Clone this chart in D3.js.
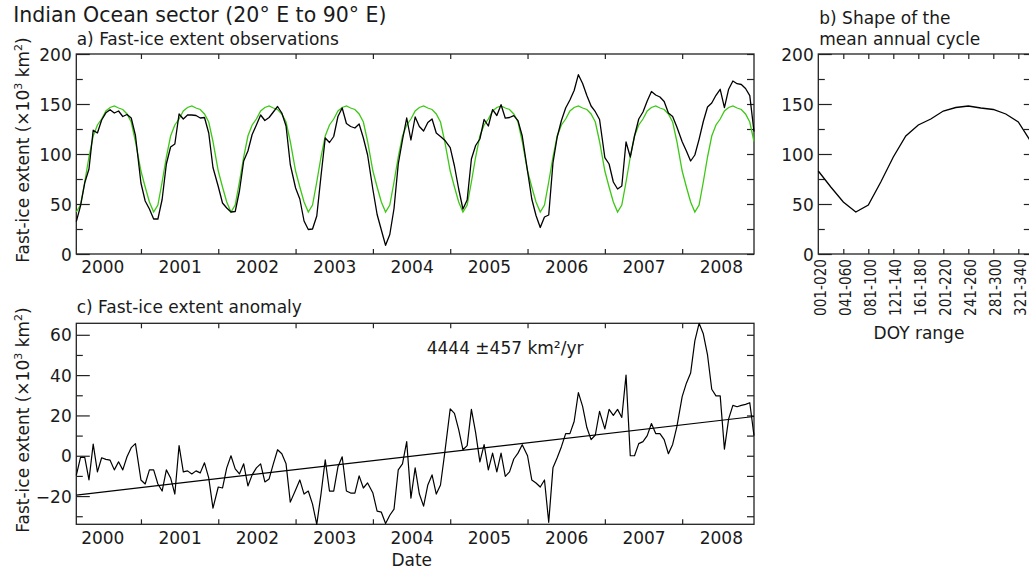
<!DOCTYPE html>
<html>
<head>
<meta charset="utf-8">
<script src="https://cdn.jsdelivr.net/npm/d3@7"></script>
<style>
    body { margin: 0; background: #fff; }
    svg text { font-family: "DejaVu Sans", sans-serif; fill: #1a1a1a; }
</style>
</head>
<body>
<div id="chart"></div>
<script>

// ---- data ----

const years = [2000, 2001, 2002, 2003, 2004, 2005, 2006, 2007, 2008];
const firstPeriod = 3;   // record starts with DOY 061-080 in 2000

const periodLabels = ["001-020", "021-040", "041-060", "061-080", "081-100", "101-120",
    "121-140", "141-160", "161-180", "181-200", "201-220", "221-240",
    "241-260", "261-280", "281-300", "301-320", "321-340", "341-360"];

// mean annual cycle (x10^3 km^2), one value per 20-day period
const climatology = [83, 67, 52, 42, 49, 72, 97, 118, 129, 135, 143, 146.5,
    148, 146, 144.5, 140, 132, 112.5];

// observed fast-ice extent per 20-day period, one row per year
const observed = [
    [32.3, 48.2, 71.2, 85, 123.8, 121, 134, 141.2, 144.3, 141, 143, 137.5, 139.5, 136, 118.5],
    [71, 53, 45, 35, 35, 54.5, 90, 107, 110, 140, 135, 139, 139, 138.5, 136, 136.5, 121, 86.5],
    [67.5, 51, 46, 42, 42.5, 63, 93, 103, 119.5, 129, 139, 133.5, 136.5, 142, 147.5, 141, 128, 89.5],
    [66, 55, 33, 24.5, 25, 38, 78, 116, 111.5, 117.5, 137.5, 146, 130.5, 127.5, 126, 130, 116, 99],
    [64.5, 39.5, 24, 8.7, 19.5, 45.5, 90, 114, 136, 114, 137, 127.5, 123, 131.5, 135, 121, 117.5, 113.8],
    [106.3, 88, 65, 45, 54, 95, 108.5, 115, 134.5, 128, 144.3, 138.5, 149.3, 135.8, 136.5, 138.4, 133.3, 118],
    [83, 55, 38.5, 26.5, 37, 39, 91, 117, 133.5, 146, 154, 163.5, 179.3, 170.5, 158.5, 148, 142.3, 134.5],
    [96.3, 90, 72, 65, 68, 112, 97, 118, 135, 142, 153, 162.5, 159, 157, 152.5, 141, 137.6, 127],
    [112.3, 103, 93, 99, 114.7, 132.5, 147, 151, 158.7, 164.7, 146.3, 164.8, 173, 170.3, 169.5, 165.5, 158.3, 122.5]
];

// anomaly from the mean cycle (x10^3 km^2)
const anomaly = [
    [-9.7, -0.8, -0.8, -12, 5.8, -8, -1, -1.8, -2.2, -7, -3, -7, -0.5, 4, 6],
    [-12, -14, -7, -7, -14, -17.5, -7, -11, -19, 5, -8, -7.5, -9, -7.5, -8.5, -3.5, -11, -26],
    [-15.5, -16, -6, 0, -6.5, -9, -4, -15, -9.5, -6, -4, -13, -11.5, -4, 3, 1, -4, -23],
    [-17, -12, -19, -17.5, -24, -34, -19, -2, -17.5, -17.5, -5.5, -0.5, -17.5, -18.5, -18.5, -10, -16, -13.5],
    [-18.5, -27.5, -28, -33.6, -29.5, -26.5, -7, -4, 7, -21, -6, -19, -25, -14.5, -9.5, -19, -14.5, 1.3],
    [23.3, 21, 13, 3, 5, 23, 11.5, -3, 5.5, -7, 1.3, -8, 1.3, -10.2, -8, -1.6, 1.3, 5.5],
    [0, -12, -13.5, -15.5, -12, -33, -6, -1, 4.5, 11, 11, 17, 31.3, 24.5, 14, 8, 10.3, 22],
    [13.3, 23, 20, 23, 19, 40, 0, 0, 6, 7, 10, 16, 11, 11, 8, 1, 5.6, 14.5],
    [29.3, 36, 41, 57, 65.7, 60.5, 50, 33, 29.7, 29.7, 3.3, 18.3, 25, 24.3, 25, 25.5, 26.3, 10]
];

// linear trend of the anomaly
const trendSlope = 4.444;      // x10^3 km^2 per year
const trendZeroYear = 2004.55; // year where the fit crosses zero
const trendLabel = "4444 \u00b1457 km\u00b2/yr";

// ---- helpers ----

function decimalYear(year, k) {
    let days = (year % 4 === 0) ? 366 : 365;
    return year + 20 * k / days;
}

function flatten(rows) {
    let out = [];
    rows.forEach((row, i) => {
        let start = (i === 0) ? firstPeriod : 0;
        row.forEach((v, j) => {
            out.push({t: decimalYear(years[i], start + j), k: start + j, value: v});
        });
    });
    return out;
}

let obsData = flatten(observed);
let anomData = flatten(anomaly);
let climData = obsData.map(d => ({t: d.t, value: climatology[d.k]}));

// ---- svg ----

let width = 1029, height = 569;
let svg = d3.select("#chart").append("svg")
    .attr("width", width)
    .attr("height", height);

let frameColor = "#222";

// scales
let x = d3.scaleLinear()
    .domain(d3.extent(obsData, d => d.t))
    .range([76.3, 754]);
let yA = d3.scaleLinear().domain([0, 200]).range([254, 54]);
let xB = d3.scaleLinear().domain([0, periodLabels.length - 1]).range([818.3, 1030.8]);
let yC = d3.scaleLinear().domain(d3.extent(anomData, d => d.value)).range([524.3, 323.3]);

function frame(g, xs, ys) {
    g.append("rect")
        .attr("x", xs.range()[0])
        .attr("y", ys.range()[1])
        .attr("width", xs.range()[1] - xs.range()[0])
        .attr("height", ys.range()[0] - ys.range()[1])
        .attr("fill", "none")
        .attr("stroke", frameColor)
        .attr("stroke-width", 1.3);
}

function styleAxis(g) {
    g.select(".domain").remove();
    g.selectAll(".tick line").attr("stroke", frameColor).attr("stroke-width", 1.2);
    g.selectAll(".tick text")
        .attr("font-family", "DejaVu Sans")
        .attr("font-size", 17)
        .attr("fill", "#1a1a1a");
}

// time-series panel (a and c)
function timePanel(ys, majorY, minorY) {
    let g = svg.append("g");
    let [yBottom, yTop] = ys.range();
    let yearTicks = years.slice(1);

    // year ticks bottom and top
    g.append("g")
        .attr("transform", `translate(0,${yBottom})`)
        .call(d3.axisBottom(x).tickValues(yearTicks).tickSize(-5).tickFormat(""))
        .call(styleAxis);
    g.append("g")
        .attr("transform", `translate(0,${yTop})`)
        .call(d3.axisTop(x).tickValues(yearTicks).tickSize(-5).tickFormat(""))
        .call(styleAxis);

    // year labels centred on each year
    g.append("g")
        .attr("transform", `translate(0,${yBottom})`)
        .call(d3.axisBottom(x).tickValues(years.map(d => d + 0.5)).tickSize(0)
            .tickPadding(7.4).tickFormat(d => Math.floor(d)))
        .call(styleAxis);

    // left axis, major + minor
    g.append("g")
        .attr("transform", `translate(${x.range()[0]},0)`)
        .call(d3.axisLeft(ys).tickValues(majorY).tickSize(-13.5).tickPadding(4.6))
        .call(styleAxis)
        .selectAll(".tick text").attr("dy", "0.36em");
    g.append("g")
        .attr("transform", `translate(${x.range()[0]},0)`)
        .call(d3.axisLeft(ys).tickValues(minorY).tickSize(-6.5).tickFormat(""))
        .call(styleAxis);

    // right axis
    g.append("g")
        .attr("transform", `translate(${x.range()[1]},0)`)
        .call(d3.axisRight(ys).tickValues(majorY.concat(minorY)).tickSize(-7).tickFormat(""))
        .call(styleAxis);

    frame(g, x, ys);
    return g;
}

// y-axis title with superscripts
function yTitle(cx, cy) {
    let t = svg.append("text")
        .attr("transform", `translate(${cx},${cy}) rotate(-90)`)
        .attr("text-anchor", "middle")
        .attr("font-size", 17);
    t.append("tspan").text("Fast-ice extent (\u00d710");
    t.append("tspan").attr("font-size", 11).attr("dy", -7).text("3");
    t.append("tspan").attr("dy", 7).text(" km");
    t.append("tspan").attr("font-size", 11).attr("dy", -7).text("2");
    t.append("tspan").attr("dy", 7).text(")");
}

// ---- panel a ----

let panelA = timePanel(yA, [0, 50, 100, 150, 200], [25, 75, 125, 175]);

let lineA = d3.line().x(d => x(d.t)).y(d => yA(d.value));

panelA.append("path")
    .datum(climData)
    .attr("d", lineA)
    .attr("fill", "none")
    .attr("stroke", "#3cc814")
    .attr("stroke-width", 1.3);

panelA.append("path")
    .datum(obsData)
    .attr("d", lineA)
    .attr("fill", "none")
    .attr("stroke", "#000")
    .attr("stroke-width", 1.3)
    .attr("stroke-linejoin", "round");

svg.append("text")
    .attr("x", 13.3).attr("y", 22.3)
    .attr("font-size", 20.5)
    .text("Indian Ocean sector (20\u00b0 E to 90\u00b0 E)");

svg.append("text")
    .attr("x", 76.7).attr("y", 44.5)
    .attr("font-size", 17)
    .text("a) Fast-ice extent observations");

yTitle(28.5, 150);

// ---- panel b ----

let panelB = svg.append("g");

panelB.append("g")
    .attr("transform", `translate(${xB.range()[0]},0)`)
    .call(d3.axisLeft(yA).tickValues([0, 50, 100, 150, 200]).tickSize(-13.5).tickPadding(4.6))
    .call(styleAxis)
    .selectAll(".tick text").attr("dy", "0.36em");
panelB.append("g")
    .attr("transform", `translate(${xB.range()[0]},0)`)
    .call(d3.axisLeft(yA).tickValues([25, 75, 125, 175]).tickSize(-6.5).tickFormat(""))
    .call(styleAxis);
panelB.append("g")
    .attr("transform", `translate(${xB.range()[1]},0)`)
    .call(d3.axisRight(yA).tickValues(d3.range(0, 201, 25)).tickSize(-7).tickFormat(""))
    .call(styleAxis);

let evenK = d3.range(periodLabels.length).filter(k => k % 2 === 0);

panelB.append("g")
    .attr("transform", `translate(0,254)`)
    .call(d3.axisBottom(xB).tickValues(evenK.slice(1)).tickSize(-5).tickFormat(""))
    .call(styleAxis);
panelB.append("g")
    .attr("transform", `translate(0,54)`)
    .call(d3.axisTop(xB).tickValues(evenK.slice(1)).tickSize(-5).tickFormat(""))
    .call(styleAxis);

// rotated category labels, every second period
panelB.selectAll(".doy")
    .data(evenK.filter(k => k < 17))
    .join("text")
    .attr("class", "doy")
    .attr("transform", k => `translate(${xB(k) + 7.3},259) rotate(-90)`)
    .attr("text-anchor", "end")
    .attr("font-size", 16)
    .attr("textLength", 57)
    .attr("lengthAdjust", "spacingAndGlyphs")
    .text(k => periodLabels[k]);

frame(panelB, xB, yA);

panelB.append("path")
    .datum(climatology)
    .attr("d", d3.line().x((d, i) => xB(i)).y(d => yA(d)))
    .attr("fill", "none")
    .attr("stroke", "#000")
    .attr("stroke-width", 1.3);

let titleB = svg.append("text").attr("font-size", 17);
titleB.append("tspan").attr("x", 819.3).attr("y", 23.5).text("b) Shape of the");
titleB.append("tspan").attr("x", 819.3).attr("y", 45).text("mean annual cycle");

svg.append("text")
    .attr("x", 919).attr("y", 339)
    .attr("text-anchor", "middle")
    .attr("font-size", 17)
    .text("DOY range");

// ---- panel c ----

let panelC = timePanel(yC, [-20, 0, 20, 40, 60], [-30, -10, 10, 30, 50]);

let lineC = d3.line().x(d => x(d.t)).y(d => yC(d.value));

panelC.append("path")
    .datum(anomData)
    .attr("d", lineC)
    .attr("fill", "none")
    .attr("stroke", "#000")
    .attr("stroke-width", 1.2)
    .attr("stroke-linejoin", "round");

// trend line across the full record
let trendData = x.domain().map(t => ({t: t, value: trendSlope * (t - trendZeroYear)}));
panelC.append("path")
    .datum(trendData)
    .attr("d", lineC)
    .attr("fill", "none")
    .attr("stroke", "#000")
    .attr("stroke-width", 1.2);

svg.append("text")
    .attr("x", 426.7).attr("y", 354)
    .attr("font-size", 17)
    .text(trendLabel);

svg.append("text")
    .attr("x", 76.7).attr("y", 312.5)
    .attr("font-size", 17)
    .text("c) Fast-ice extent anomaly");

yTitle(28.5, 420);

svg.append("text")
    .attr("x", 411.7).attr("y", 565.5)
    .attr("text-anchor", "middle")
    .attr("font-size", 17)
    .text("Date");

</script>
</body>
</html>
